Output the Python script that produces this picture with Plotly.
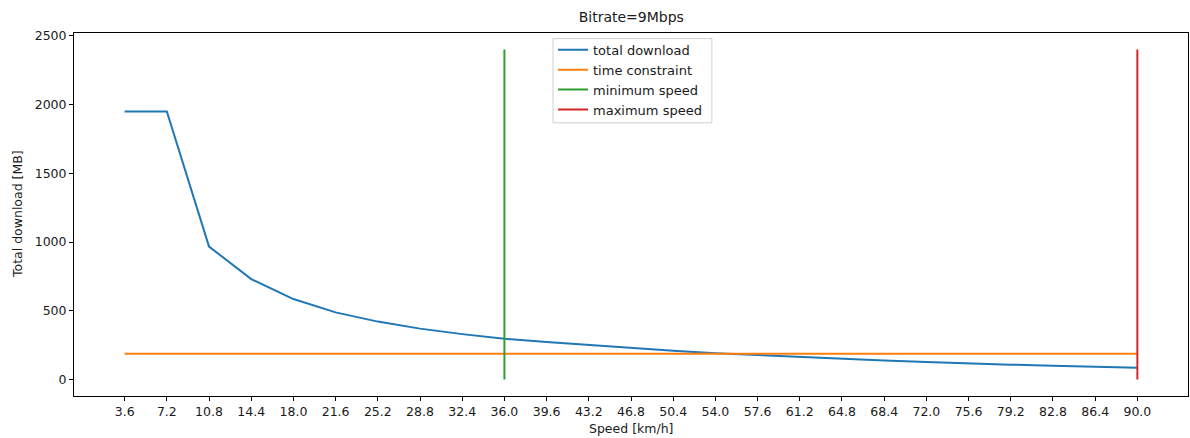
import plotly.graph_objects as go

# Speeds sampled (km/h)
speeds = [3.6, 7.2, 10.8, 14.4, 18.0, 21.6, 25.2, 28.8, 32.4, 36.0, 39.6, 43.2,
          46.8, 50.4, 54.0, 57.6, 61.2, 64.8, 68.4, 72.0, 75.6, 79.2, 82.8, 86.4, 90.0]

# Total download per speed (MB)
total_download = [1950, 1950, 967, 730, 585, 488, 421, 370, 330, 296, 272, 250,
                  230, 210, 191, 177, 165, 152, 139, 127, 116, 108, 100, 92, 85]

# Constraint and speed limits
time_constraint = 188
min_speed = 36.0
max_speed = 90.0
marker_low = 0
marker_high = 2400

tick_labels = [f"{s:.1f}" for s in speeds]

FONT = "DejaVu Sans"
TXT = "#1a1a1a"

fig = go.Figure()
fig.add_trace(go.Scatter(x=speeds, y=total_download, mode="lines",
                         name="total download",
                         line=dict(color="#1f77b4", width=2)))
fig.add_trace(go.Scatter(x=[speeds[0], speeds[-1]],
                         y=[time_constraint, time_constraint], mode="lines",
                         name="time constraint",
                         line=dict(color="#ff7f0e", width=2)))
fig.add_trace(go.Scatter(x=[min_speed, min_speed], y=[marker_low, marker_high],
                         mode="lines", name="minimum speed",
                         line=dict(color="#2ca02c", width=2)))
fig.add_trace(go.Scatter(x=[max_speed, max_speed], y=[marker_low, marker_high],
                         mode="lines", name="maximum speed",
                         line=dict(color="#d62728", width=2)))

span = speeds[-1] - speeds[0]
axis_common = dict(showline=True, linecolor="black", linewidth=1, mirror=True,
                   showgrid=False, zeroline=False, ticks="outside", ticklen=4,
                   tickcolor="black", tickwidth=1,
                   tickfont=dict(family=FONT, size=12.5, color=TXT))

fig.update_layout(
    width=1190, height=438,
    margin=dict(l=73.5, r=2, t=32.7, b=41.5),
    paper_bgcolor="white", plot_bgcolor="white",
    font=dict(family=FONT, size=12.5, color=TXT),
    xaxis=dict(range=[speeds[0] - 0.05 * span, speeds[-1] + 0.05 * span],
               tickvals=speeds, ticktext=tick_labels, **axis_common),
    yaxis=dict(range=[-0.05 * marker_high, marker_high * 1.05],
               tickvals=[0, 500, 1000, 1500, 2000, 2500], **axis_common),
    showlegend=True,
    legend=dict(x=0.43, y=0.995, xanchor="left", yanchor="top",
                bgcolor="rgba(0,0,0,0)", borderwidth=0,
                font=dict(family=FONT, size=13, color=TXT),
                tracegroupgap=0, itemwidth=30),
    shapes=[
        # legend frame
        dict(type="rect", xref="paper", yref="paper",
             x0=0.43, x1=0.5726, y0=0.7526, y1=0.9846,
             line=dict(color="#d0d0d0", width=1),
             fillcolor="rgba(255,255,255,0.8)", layer="below"),
    ],
    title=dict(text="Bitrate=9Mbps", x=0.5305, xanchor="center",
               xref="container", y=1 - 17 / 438, yref="container",
               yanchor="middle", font=dict(family=FONT, size=14, color=TXT)),
    annotations=[
        dict(text="Speed [km/h]", xref="paper", yref="paper", x=0.5, y=0,
             yshift=-32, showarrow=False, yanchor="middle",
             font=dict(family=FONT, size=12.5, color=TXT)),
        dict(text="Total download [MB]", xref="paper", yref="paper", x=0,
             xshift=-56.5, y=0.5, showarrow=False, textangle=-90,
             xanchor="center", yanchor="middle",
             font=dict(family=FONT, size=12.5, color=TXT)),
    ],
)

fig.write_html("out.html")
